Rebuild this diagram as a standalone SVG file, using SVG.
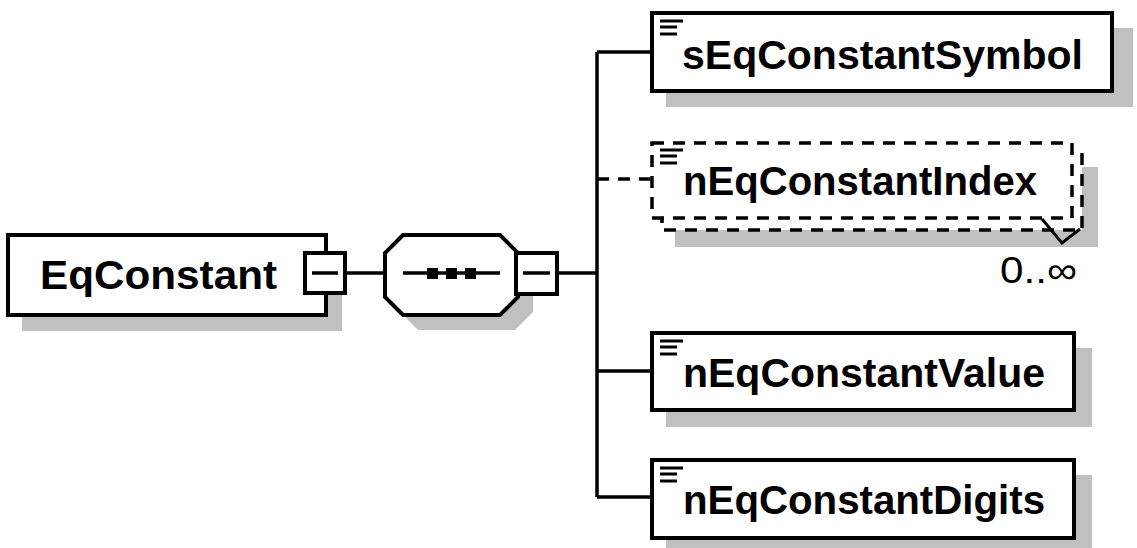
<svg xmlns="http://www.w3.org/2000/svg" width="1137" height="548" viewBox="0 0 1137 548">
<style>
.shadow{fill:#c0c0c0;stroke:none}
.box{fill:#fff;stroke:#000;stroke-width:4}
.dbox{fill:#fff;stroke:#000;stroke-width:3.5;stroke-dasharray:12 9}
.line{fill:none;stroke:#000;stroke-width:3.5}
.dline{fill:none;stroke:#000;stroke-width:3.5;stroke-dasharray:12 9}
.lbl{font-family:"Liberation Sans",Arial,sans-serif;font-weight:bold;font-size:40px;fill:#000}
.occ{font-family:"Liberation Sans",Arial,sans-serif;font-size:37px;fill:#000}
.icon{stroke:#000;stroke-width:3}
.minus{stroke:#000;stroke-width:3.5}
</style>
<rect width="1137" height="548" fill="#fff"/>
<g id="connectors">
<line class="line" x1="345" y1="273" x2="385" y2="273"/>
<line class="line" x1="557" y1="273" x2="597" y2="273"/>
<line class="line" x1="597" y1="52" x2="597" y2="497"/>
<line class="line" x1="597" y1="52" x2="651" y2="52"/>
<line class="dline" x1="597" y1="179" x2="651" y2="179"/>
<line class="line" x1="597" y1="371" x2="651" y2="371"/>
<line class="line" x1="597" y1="497" x2="651" y2="497"/>
</g>
<g id="EqConstant">
<rect class="shadow" x="22" y="251" width="320" height="80"/>
<rect class="box" x="8" y="235" width="318" height="80"/>
<text class="lbl" x="40" y="289" textLength="237" lengthAdjust="spacingAndGlyphs">EqConstant</text>
<rect class="box" x="305" y="253" width="40" height="40"/>
<line class="minus" x1="312" y1="273" x2="338" y2="273"/>
</g>
<g id="sequence">
<polygon class="shadow" points="418,250 515,250 533,268 533,312 515,330 418,330 400,312 400,268"/>
<polygon class="box" points="403,235 500,235 518,253 518,297 500,315 403,315 385,297 385,253"/>
<line class="line" x1="403" y1="273" x2="500" y2="273"/>
<rect x="427" y="268" width="11" height="11" fill="#000"/>
<rect x="446" y="268" width="11" height="11" fill="#000"/>
<rect x="465" y="268" width="11" height="11" fill="#000"/>
<rect class="box" x="516" y="253" width="41" height="41"/>
<line class="minus" x1="523" y1="273" x2="550" y2="273"/>
</g>
<g id="sEqConstantSymbol">
<rect class="shadow" x="666" y="28" width="467" height="79"/>
<rect class="box" x="652" y="13" width="460" height="78"/>
<line class="icon" x1="660" y1="21" x2="683" y2="21"/>
<line class="icon" x1="660" y1="27" x2="677" y2="27"/>
<line class="icon" x1="660" y1="34" x2="677" y2="34"/>
<text class="lbl" x="682" y="69" textLength="401" lengthAdjust="spacingAndGlyphs">sEqConstantSymbol</text>
</g>
<g id="nEqConstantIndex">
<rect class="shadow" x="675" y="167" width="423" height="80"/>
<rect class="dbox" x="662" y="153" width="420" height="77"/>
<rect class="dbox" x="652" y="143" width="420" height="75"/>
<polyline points="1042,219 1062,243 1080,229" fill="none" stroke="#000" stroke-width="3"/>
<line class="icon" x1="660" y1="150" x2="683" y2="150"/>
<line class="icon" x1="660" y1="156" x2="677" y2="156"/>
<line class="icon" x1="660" y1="163" x2="677" y2="163"/>
<text class="lbl" x="683" y="195" textLength="354" lengthAdjust="spacingAndGlyphs">nEqConstantIndex</text>
<text class="occ" x="1000" y="283" textLength="77" lengthAdjust="spacingAndGlyphs">0..∞</text>
</g>
<g id="nEqConstantValue">
<rect class="shadow" x="666" y="348" width="426" height="79"/>
<rect class="box" x="652" y="333" width="422" height="77"/>
<line class="icon" x1="660" y1="341" x2="683" y2="341"/>
<line class="icon" x1="660" y1="347" x2="677" y2="347"/>
<line class="icon" x1="660" y1="354" x2="677" y2="354"/>
<text class="lbl" x="683" y="387" textLength="362" lengthAdjust="spacingAndGlyphs">nEqConstantValue</text>
</g>
<g id="nEqConstantDigits">
<rect class="shadow" x="666" y="475" width="426" height="79"/>
<rect class="box" x="652" y="460" width="422" height="78"/>
<line class="icon" x1="660" y1="468" x2="683" y2="468"/>
<line class="icon" x1="660" y1="474" x2="677" y2="474"/>
<line class="icon" x1="660" y1="481" x2="677" y2="481"/>
<text class="lbl" x="683" y="514" textLength="362" lengthAdjust="spacingAndGlyphs">nEqConstantDigits</text>
</g>
</svg>
